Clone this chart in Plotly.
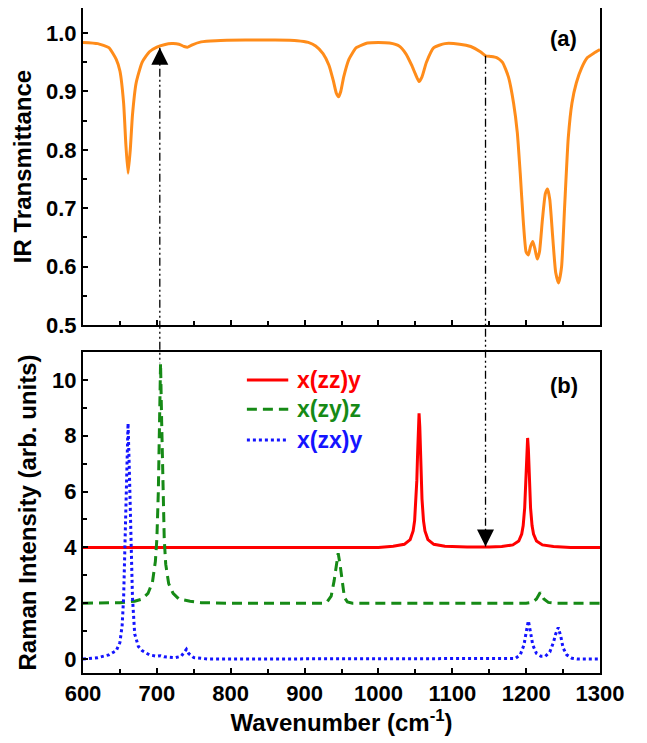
import plotly.graph_objects as go

# ---------------- data ----------------
ir_x = [600, 620, 635, 645, 650, 655, 658, 661, 664, 667, 672, 680, 690, 700, 710, 720, 730, 737, 742, 748,
        760, 780, 820, 860, 890, 905, 915, 925, 933, 939, 943, 946, 949, 953, 960, 970, 985, 1000, 1015, 1028,
        1037, 1045, 1050, 1055, 1059, 1065, 1075, 1090, 1110, 1125, 1138, 1145, 1152, 1160, 1168, 1176, 1183,
        1188, 1192, 1196, 1200, 1203, 1206, 1209, 1212, 1215, 1218, 1222, 1226, 1229, 1232, 1236, 1240, 1244,
        1248, 1252, 1257, 1262, 1268, 1275, 1283, 1292, 1300]
ir_y = [0.984, 0.982, 0.975, 0.955, 0.935, 0.88, 0.81, 0.760, 0.80, 0.86, 0.915, 0.950, 0.968, 0.976, 0.980,
        0.982, 0.981, 0.977, 0.976, 0.980, 0.985, 0.987, 0.988, 0.988, 0.987, 0.984, 0.978, 0.965, 0.945, 0.918,
        0.897, 0.891, 0.900, 0.925, 0.955, 0.975, 0.983, 0.984, 0.983, 0.978, 0.965, 0.945, 0.930, 0.917, 0.925,
        0.950, 0.975, 0.982, 0.981, 0.977, 0.968, 0.961, 0.960, 0.958, 0.950, 0.925, 0.880, 0.83, 0.76, 0.68,
        0.625, 0.620, 0.635, 0.643, 0.630, 0.613, 0.625, 0.68, 0.725, 0.733, 0.715, 0.65, 0.59, 0.572, 0.60,
        0.70, 0.82, 0.88, 0.915, 0.940, 0.958, 0.966, 0.972]

zz_x = [600, 800, 1000, 1020, 1035, 1043, 1047, 1049, 1051, 1052, 1053, 1054, 1055, 1056, 1057, 1058, 1059,
        1061, 1063, 1067, 1075, 1090, 1120, 1150, 1167, 1182, 1190, 1194, 1196, 1198, 1199, 1200, 1201, 1202,
        1203, 1204, 1205, 1206, 1208, 1210, 1214, 1222, 1237, 1260, 1300]
zz_y = [4.0, 4.0, 4.0, 4.04, 4.11, 4.28, 4.59, 4.96, 5.73, 6.4, 7.32, 8.32, 8.8, 8.32, 7.32, 6.4, 5.73,
        4.96, 4.59, 4.28, 4.11, 4.04, 4.01, 4.01, 4.03, 4.09, 4.23, 4.48, 4.78, 5.41, 5.96, 6.71, 7.53, 7.92,
        7.53, 6.71, 5.96, 5.41, 4.78, 4.48, 4.23, 4.09, 4.03, 4.0, 4.0]

zy_x = [600, 650, 670, 680, 688, 694, 698, 700, 702, 703.5, 705, 706.5, 708, 710, 712, 716, 722, 730, 745,
        760, 800, 900, 924, 930, 936, 940, 943, 945.5, 948, 951, 954, 958, 965, 990, 1100, 1200, 1208, 1214,
        1219, 1224, 1230, 1240, 1300]
zy_y = [2.0, 2.02, 2.07, 2.15, 2.35, 2.75, 3.5, 4.3, 6.0, 8.5, 10.6, 8.5, 6.0, 4.3, 3.4, 2.7, 2.35, 2.15,
        2.07, 2.02, 2.0, 2.0, 2.0, 2.03, 2.25, 2.8, 3.4, 3.79, 3.4, 2.7, 2.2, 2.05, 2.0, 2.0, 2.0, 2.0, 2.03,
        2.15, 2.38, 2.15, 2.03, 2.0, 2.0]

zx_x = [600, 620, 635, 645, 650, 653, 655, 657, 659, 661, 663, 665, 667, 670, 675, 680, 690, 700, 705,
        710, 725, 733, 738, 740, 743, 750, 770, 1170, 1185, 1192, 1197, 1200, 1203, 1206, 1209, 1214, 1220,
        1226, 1232, 1237, 1240, 1243.5, 1247, 1250, 1255, 1262, 1270, 1300]
zx_y = [0.0, 0.05, 0.15, 0.3, 0.6, 1.2, 2.2, 4.0, 6.5, 8.45, 6.5, 4.0, 2.2, 0.9, 0.45, 0.3, 0.15, 0.1,
        0.12, 0.08, 0.05, 0.1, 0.3, 0.35, 0.2, 0.05, 0.0, 0.0, 0.02, 0.15, 0.5, 0.95, 1.37, 0.95, 0.5, 0.2,
        0.1, 0.1, 0.25, 0.6, 0.9, 1.13, 0.8, 0.4, 0.15, 0.03, 0.0, 0.0]

series_names = ["x(zz)y", "x(zy)z", "x(zx)y"]
series_colors = ["#ff0000", "#168a16", "#1414ff"]
series_dash = ["solid", "10px,6px", "3px,3px"]

# arrows: (x, top-panel y, bottom-panel y, direction)
arrow_x = [704, 1145]
arrow_top_y = [0.975, 0.961]
arrow_bot_y = [10.6, 4.03]
arrow_dir = ["up", "down"]

x_range = [600, 1300]
top_range = [0.5, 1.043]
bot_range = [-0.5, 11]
top_dom = [0.5233, 1.0]
bot_dom = [0.0, 0.4827]

FONT = "Liberation Sans, Arial, sans-serif"

fig = go.Figure()
fig.add_trace(go.Scatter(x=ir_x, y=ir_y, mode="lines", xaxis="x", yaxis="y",
                         line=dict(color="#ff8c1a", width=3, shape="spline", smoothing=0.5),
                         showlegend=False))
for xs, ys, nm, col, ds in zip([zz_x, zy_x, zx_x], [zz_y, zy_y, zx_y], series_names, series_colors, series_dash):
    fig.add_trace(go.Scatter(x=xs, y=ys, mode="lines", xaxis="x2", yaxis="y2", name=nm,
                             line=dict(color=col, width=3, dash=ds), showlegend=False))


def to_paper(v, rng, dom):
    return dom[0] + (v - rng[0]) / (rng[1] - rng[0]) * (dom[1] - dom[0])


shapes = []
for ax_, ty, by, d in zip(arrow_x, arrow_top_y, arrow_bot_y, arrow_dir):
    shapes.append(dict(type="line", xref="x", yref="paper", x0=ax_, x1=ax_,
                       y0=to_paper(ty, top_range, top_dom), y1=to_paper(by, bot_range, bot_dom),
                       line=dict(color="black", width=1.3, dash="8px,3px,2px,3px,2px,3px")))
    if d == "up":
        fig.add_trace(go.Scatter(x=[ax_], y=[ty], xaxis="x", yaxis="y", mode="markers",
                                 marker=dict(symbol="arrow-up", size=17, color="black"),
                                 cliponaxis=False, showlegend=False))
    else:
        fig.add_trace(go.Scatter(x=[ax_], y=[by], xaxis="x2", yaxis="y2", mode="markers",
                                 marker=dict(symbol="arrow-down", size=17, color="black"),
                                 cliponaxis=False, showlegend=False))

# custom legend
leg_y = [0.913, 0.822, 0.726]
annotations = []
for nm, col, ds, yy in zip(series_names, series_colors, series_dash, leg_y):
    shapes.append(dict(type="line", xref="x2 domain", yref="y2 domain", x0=0.317, x1=0.397, y0=yy, y1=yy,
                       line=dict(color=col, width=3, dash=ds)))
    annotations.append(dict(text=nm, xref="x2 domain", yref="y2 domain", x=0.41, y=yy, xanchor="left",
                            yanchor="middle", showarrow=False,
                            font=dict(family=FONT, size=23, color=col, weight="bold")))

annotations.append(dict(text="(a)", xref="x domain", yref="y domain", x=0.93, y=0.905, xanchor="center",
                        yanchor="middle", showarrow=False, font=dict(family=FONT, size=22, color="black", weight="bold")))
annotations.append(dict(text="(b)", xref="x2 domain", yref="y2 domain", x=0.93, y=0.895, xanchor="center",
                        yanchor="middle", showarrow=False, font=dict(family=FONT, size=22, color="black", weight="bold")))

tickfont = dict(family=FONT, size=22, color="black", weight="bold")
titlefont = dict(family=FONT, size=24, color="black", weight="bold")
axcommon = dict(showline=True, linecolor="black", linewidth=2, mirror=True, ticks="inside", ticklen=5,
                tickwidth=2, tickcolor="black", showgrid=False, zeroline=False, automargin=False)
minor_common = dict(ticks="inside", ticklen=4, tickwidth=2, tickcolor="black")

fig.update_layout(
    width=647, height=743,
    margin=dict(l=75, r=55, t=0, b=78),
    paper_bgcolor="white", plot_bgcolor="rgba(0,0,0,0)",
    showlegend=False,
    xaxis=dict(domain=[0, 1], anchor="y", range=x_range, dtick=100, showticklabels=False,
               minor=dict(dtick=50, **minor_common), **axcommon),
    yaxis=dict(domain=top_dom, anchor="x", range=top_range, tickvals=[0.5, 0.6, 0.7, 0.8, 0.9, 1.0],
               tickformat=".1f", tickfont=tickfont,
               title=dict(text="IR Transmittance", font=titlefont, standoff=8),
               minor=dict(dtick=0.05, **minor_common), **axcommon),
    xaxis2=dict(domain=[0, 1], anchor="y2", range=x_range, dtick=100, tickfont=tickfont,
                title=dict(text="Wavenumber (cm<sup>-1</sup>)", font=titlefont, standoff=8),
                minor=dict(dtick=50, **minor_common), **axcommon),
    yaxis2=dict(domain=bot_dom, anchor="x2", range=bot_range, dtick=2, tickfont=tickfont,
                title=dict(text="Raman Intensity (arb. units)", font=titlefont, standoff=9),
                minor=dict(dtick=1, **minor_common), **axcommon),
    shapes=shapes,
    annotations=annotations,
)

fig.write_html("out.html")
